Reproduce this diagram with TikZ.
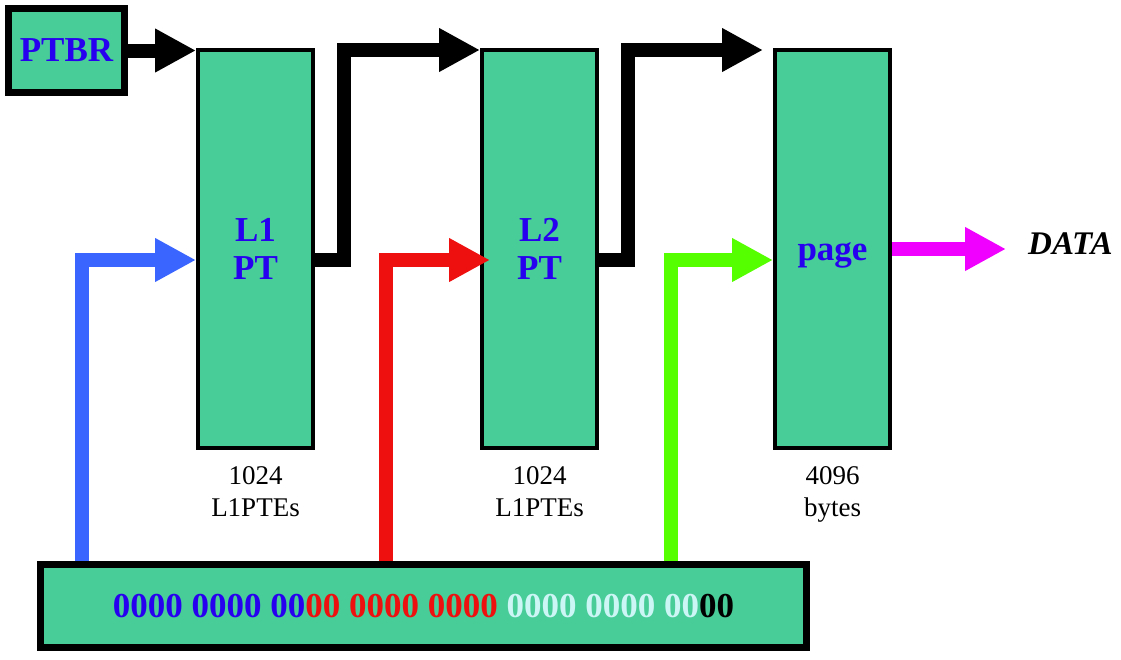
\documentclass[tikz,border=0pt]{standalone}
\usepackage{fontspec}
\setmainfont{Liberation Serif}
\usetikzlibrary{arrows.meta,positioning}
\definecolor{ptgreen}{RGB}{72,204,152}
\definecolor{ptblue}{RGB}{40,0,240}
\definecolor{arrblue}{RGB}{58,102,255}
\definecolor{ptred}{RGB}{238,15,15}
\definecolor{ptlime}{RGB}{85,255,0}
\definecolor{ptmag}{RGB}{240,0,255}
\definecolor{bitcyan}{RGB}{204,245,245}

\begin{document}
\begin{tikzpicture}[x=1pt,y=-1pt,
    tbl/.style={draw,fill=ptgreen,line width=4pt,minimum width=115pt,minimum height=398pt,
      inner sep=0pt,font=\fontsize{35}{38}\selectfont\bfseries,text=ptblue,align=center},
    cnt/.style={inner sep=0pt,align=center,font=\fontsize{27}{32}\selectfont},
    fat/.style={line width=14pt,-{Triangle[length=41pt,width=41pt]}}]

    \useasboundingbox (0,0) rectangle (1121,659);

    % registers and tables
    \node[draw,fill=ptgreen,line width=7pt,minimum width=116pt,minimum height=84pt,
      font=\fontsize{35}{38}\selectfont\bfseries,text=ptblue] (ptbr) at (66.5,50.5) {PTBR};
    \node[tbl] (l1) at (255.5,249) {L1\\PT};
    \node[tbl] (l2) at (539.5,249) {L2\\PT};
    \node[tbl,text height=22pt,text depth=0pt] (pg) at (832.5,249) {page};
    \node[cnt,below=16pt of l1] (n1) {1024\\L1PTEs};
    \node[cnt,below=16pt of l2] (n2) {1024\\L1PTEs};
    \node[cnt,below=16pt of pg] (n3) {4096\\bytes};
    \node[inner sep=0pt,anchor=base west,font=\fontsize{33}{36}\selectfont\bfseries\itshape] (data) at (1028,254) {DATA};

    % virtual address
    \node[draw,fill=ptgreen,line width=7pt,minimum width=766pt,minimum height=83pt,
      font=\fontsize{35}{38}\selectfont\bfseries] (addr) at (423.5,606)
      {\textcolor{ptblue}{0000 0000 00}\textcolor{ptred}{00 0000 0000} \textcolor{bitcyan}{0000 0000 00}00};
    \coordinate (bsrc) at ([xshift=45pt]addr.north west);
    \coordinate (rsrc) at ([xshift=349pt]addr.north west);
    \coordinate (gsrc) at ([xshift=634pt]addr.north west);

    % pointers
    \draw[fat] (ptbr.east) -- (ptbr.east -| l1.west);
    \draw[fat] ([yshift=-11pt]l1.east) -- ++(29,0) |- ([yshift=-2pt]l2.north west);
    \draw[fat] ([yshift=-11pt]l2.east) -- ++(29,0) |- ([xshift=-10pt,yshift=-2pt]pg.north west);

    % index bits
    \draw[fat,arrblue] (bsrc) |- ([yshift=-11pt]l1.west);
    \draw[fat,ptred] (rsrc) |- ([xshift=10pt,yshift=-11pt]l2.west);
    \draw[fat,ptlime] (gsrc) |- ([yshift=-11pt]pg.west);
    \draw[fat,ptmag,shorten >=22pt] (pg.east) -- (pg.east -| data.west);

\end{tikzpicture}
\end{document}
